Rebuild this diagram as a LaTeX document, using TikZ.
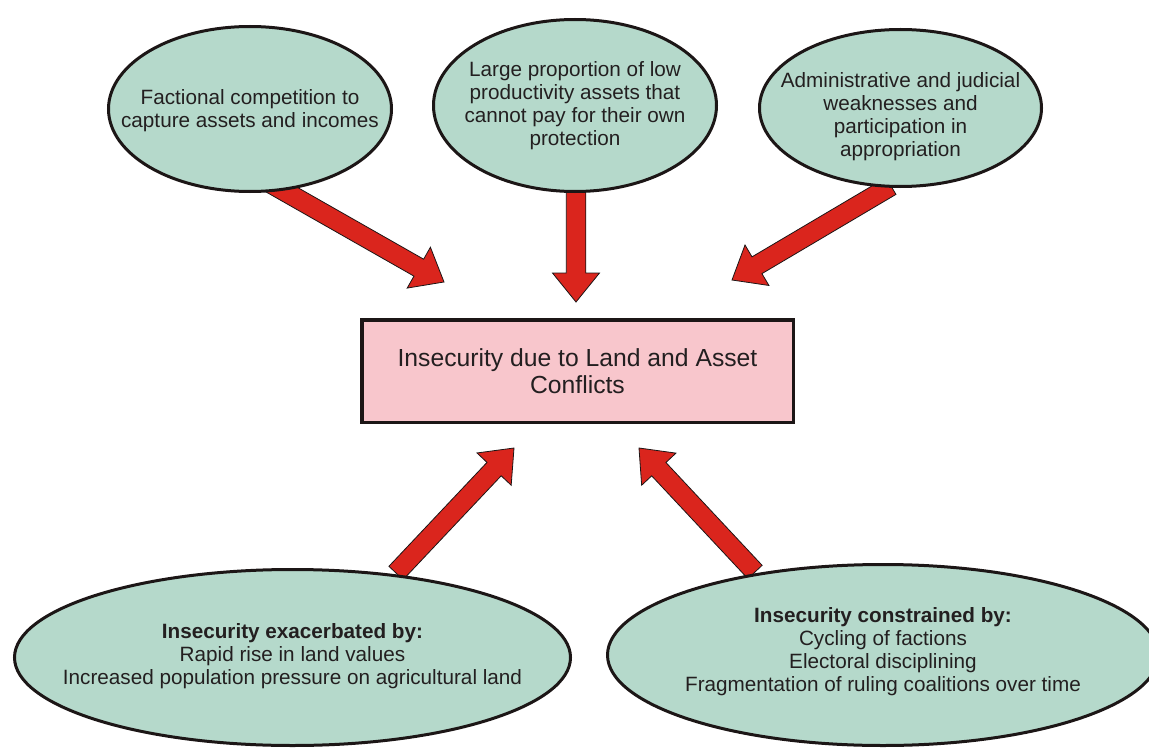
\documentclass[tikz,border=0pt]{standalone}
\usepackage{fontspec}
\setmainfont{Liberation Sans}
\usetikzlibrary{shapes.geometric,calc}
\definecolor{ellfill}{RGB}{181,217,203}
\definecolor{boxfill}{RGB}{248,198,204}
\definecolor{arrred}{RGB}{218,37,29}
\definecolor{txt}{RGB}{35,31,32}
\definecolor{edge}{RGB}{28,22,22}
\pgfdeclarelayer{bg}
\pgfsetlayers{bg,main}
\tikzset{
  ell/.style={ellipse, draw=edge, line width=3pt, fill=ellfill, inner sep=0pt},
  elltext/.style={inner sep=0pt, align=center, text=txt, font=\fontsize{20.7}{23}\selectfont},
  mainbox/.style={rectangle, draw=edge, line width=3.5pt, fill=boxfill, inner sep=0pt,
    align=center, text=txt, font=\fontsize{24.7}{27}\selectfont},
  blockarrow/.style={fill=arrred, draw=edge, line width=0.8pt, line join=miter}
}
\newcommand{\redarrow}[2]{%
  \filldraw[blockarrow]
   ($(#1)!9.75pt!90:(#2)$)
   -- ($(#2)!29pt!(#1)!9.75pt!90:(#2)$)
   -- ($(#2)!29pt!(#1)!23.5pt!90:(#2)$)
   -- (#2)
   -- ($(#2)!29pt!(#1)!23.5pt!-90:(#2)$)
   -- ($(#2)!29pt!(#1)!9.75pt!-90:(#2)$)
   -- ($(#1)!9.75pt!-90:(#2)$)
   -- cycle;}
\begin{document}
\begin{tikzpicture}[x=1pt,y=-1pt]
\useasboundingbox (0,0) rectangle (1149,749);

\node[ell, minimum width=283pt, minimum height=165pt] (t1) at (250,109) {};
\node[elltext] (t1x) at (250,110.5) {Factional competition to\\capture assets and incomes};
\node[ell, minimum width=283pt, minimum height=172pt] (t2) at (575,105.5) {};
\node[elltext] (t2x) at (575,106) {Large proportion of low\\productivity assets that\\cannot pay for their own\\protection};
\node[ell, minimum width=282pt, minimum height=157pt] (t3) at (900.5,108) {};
\node[elltext] (t3x) at (900.5,117) {Administrative and judicial\\weaknesses and\\participation in\\appropriation};
\node[mainbox, minimum width=431.5pt, minimum height=102.5pt] (box) at (577.5,371)
  {Insecurity due to Land and Asset\\Conflicts};
\node[ell, minimum width=556pt, minimum height=176pt] (b1) at (292.5,657.5) {};
\node[elltext] (b1x) at (292.5,656)
  {\textbf{Insecurity exacerbated by:}\\Rapid rise in land values\\Increased population pressure on agricultural land};
\node[ell, minimum width=551pt, minimum height=181pt] (b2) at (883,655) {};
\node[elltext] (b2x) at (883,652)
  {\textbf{Insecurity constrained by:}\\Cycling of factions\\Electoral disciplining\\Fragmentation of ruling coalitions over time};

\coordinate (s1) at (270,183);
\coordinate (h1) at (444,282);
\coordinate (s2) at (576,185);
\coordinate (h2) at (576,302);
\coordinate (s3) at (891,186);
\coordinate (h3) at (732,280);
\coordinate (s4) at (396,573);
\coordinate (h4) at (514,448);
\coordinate (s5) at (755,572);
\coordinate (h5) at (639,448);

\begin{pgfonlayer}{bg}
\redarrow{s1}{h1}
\redarrow{s2}{h2}
\redarrow{s3}{h3}
\redarrow{s4}{h4}
\redarrow{s5}{h5}
\end{pgfonlayer}
\end{tikzpicture}
\end{document}
